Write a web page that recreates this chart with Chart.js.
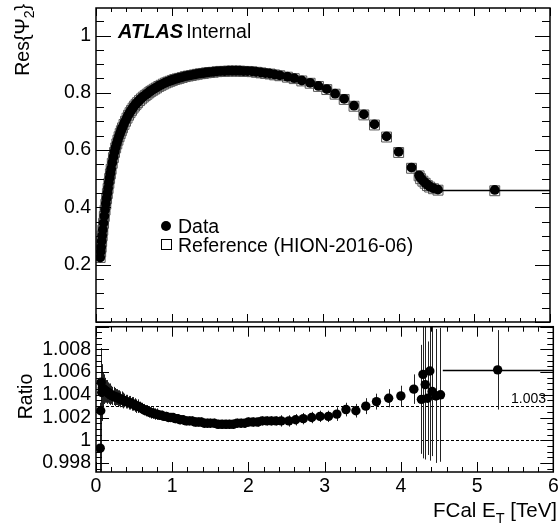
<!DOCTYPE html>
<html>
<head>
<meta charset="utf-8">
<script src="https://cdn.jsdelivr.net/npm/chart.js@4.4.1/dist/chart.umd.min.js"></script>
<style>
  body { margin: 0; background: #fff; }
  #wrap { position: relative; width: 558px; height: 526px; overflow: hidden; }
  #top { position: absolute; left: 0; top: 0; }
  #bot { position: absolute; left: 0; top: 322px; }
</style>
</head>
<body>
<div id="wrap">
  <canvas id="top" width="558" height="330"></canvas>
  <canvas id="bot" width="558" height="204"></canvas>
</div>
<script>
// FCal E_T bin centres [TeV]
const fcalEt = [
  0.055, 0.062, 0.068, 0.075, 0.082, 0.09, 0.10, 0.11, 0.12, 0.13,
  0.14, 0.15, 0.16, 0.17, 0.18, 0.19, 0.20, 0.215, 0.23, 0.245,
  0.26, 0.275, 0.29, 0.305, 0.32, 0.335, 0.35, 0.37, 0.39, 0.41,
  0.43, 0.45, 0.47, 0.49, 0.51, 0.53, 0.55, 0.575, 0.60, 0.625,
  0.65, 0.675, 0.70, 0.725, 0.75, 0.775, 0.80, 0.83, 0.86, 0.89,
  0.92, 0.95, 0.98, 1.01, 1.04, 1.07, 1.10, 1.14, 1.18, 1.22,
  1.26, 1.30, 1.34, 1.38, 1.42, 1.46, 1.50, 1.55, 1.60, 1.65,
  1.70, 1.75, 1.80, 1.85, 1.90, 1.95, 2.00, 2.06, 2.12, 2.18,
  2.24, 2.30, 2.36, 2.43, 2.53, 2.62, 2.72, 2.83, 2.94, 3.05,
  3.16, 3.28, 3.41, 3.54, 3.68, 3.84, 4.00, 4.17, 4.27, 4.29,
  4.32, 4.35, 4.38, 4.41, 4.46, 4.52, 5.27
];

// Res{Psi_2}, data
const resData = [
  0.225, 0.245, 0.262, 0.282, 0.302, 0.322, 0.346, 0.370, 0.392, 0.413,
  0.432, 0.450, 0.468, 0.486, 0.503, 0.519, 0.535, 0.556, 0.576, 0.594,
  0.610, 0.624, 0.637, 0.649, 0.660, 0.670, 0.680, 0.692, 0.703, 0.714,
  0.724, 0.733, 0.741, 0.749, 0.756, 0.762, 0.768, 0.775, 0.781, 0.787,
  0.792, 0.797, 0.802, 0.807, 0.811, 0.815, 0.819, 0.824, 0.828, 0.832,
  0.836, 0.839, 0.842, 0.845, 0.848, 0.850, 0.852, 0.855, 0.858, 0.860,
  0.862, 0.864, 0.866, 0.868, 0.869, 0.871, 0.872, 0.873, 0.875, 0.876,
  0.876, 0.877, 0.877, 0.877, 0.877, 0.876, 0.876, 0.875, 0.873, 0.871,
  0.869, 0.867, 0.864, 0.861, 0.856, 0.851, 0.843, 0.835, 0.824, 0.813,
  0.797, 0.779, 0.755, 0.725, 0.690, 0.648, 0.594, 0.539, 0.512, 0.503,
  0.494, 0.486, 0.479, 0.473, 0.467, 0.462, 0.461
];

// data / reference
const ratio = [
  0.9993, 1.0026, 1.0051, 1.0042, 1.0046, 1.0045, 1.0045, 1.0044, 1.0044, 1.0043,
  1.0043, 1.0042, 1.0042, 1.0041, 1.0041, 1.0040, 1.0040, 1.0039, 1.0039, 1.0038,
  1.0038, 1.0038, 1.0037, 1.0037, 1.0036, 1.0036, 1.0035, 1.0035, 1.0034, 1.0034,
  1.0033, 1.0033, 1.0032, 1.0032, 1.0031, 1.0030, 1.0030, 1.0029, 1.0028, 1.0027,
  1.0026, 1.0026, 1.0025, 1.0024, 1.0024, 1.0023, 1.0023, 1.0022, 1.0022, 1.0021,
  1.0021, 1.0020, 1.0020, 1.0020, 1.0019, 1.0019, 1.0018, 1.0018, 1.0017, 1.0017,
  1.0017, 1.0016, 1.0016, 1.0016, 1.0015, 1.0015, 1.0015, 1.0015, 1.0014, 1.0014,
  1.0014, 1.0014, 1.0014, 1.0015, 1.0015, 1.0015, 1.0016, 1.0016, 1.0016, 1.0017,
  1.0017, 1.0017, 1.0017, 1.0017, 1.0017, 1.0018, 1.0019, 1.0020, 1.0021, 1.0021,
  1.0023, 1.0027, 1.0026, 1.0030, 1.0034, 1.0037, 1.0039, 1.0045, 1.0036, 1.0058,
  1.0049, 1.0037, 1.0061, 1.0043, 1.0039, 1.0040, 1.0062
];

const ratioErr = [
  0.0040, 0.0055, 0.0030, 0.0025, 0.0020, 0.0015, 0.0013, 0.0012, 0.0011, 0.0010,
  0.0010, 0.0010, 0.0009, 0.0009, 0.0009, 0.0009, 0.0008, 0.0008, 0.0008, 0.0008,
  0.0007, 0.0007, 0.0007, 0.0007, 0.0007, 0.0007, 0.0007, 0.0006, 0.0006, 0.0006,
  0.0006, 0.0006, 0.0006, 0.0006, 0.0006, 0.0006, 0.0006, 0.0005, 0.0005, 0.0005,
  0.0005, 0.0005, 0.0005, 0.0005, 0.0005, 0.0005, 0.0005, 0.0004, 0.0004, 0.0004,
  0.0004, 0.0004, 0.0004, 0.0004, 0.0004, 0.0004, 0.0004, 0.0004, 0.0004, 0.0004,
  0.0004, 0.0004, 0.0004, 0.0004, 0.0004, 0.0004, 0.0004, 0.0004, 0.0004, 0.0004,
  0.0004, 0.0004, 0.0004, 0.0004, 0.0004, 0.0004, 0.0004, 0.0004, 0.0004, 0.0004,
  0.0004, 0.0004, 0.0004, 0.0005, 0.0005, 0.0005, 0.0005, 0.0005, 0.0005, 0.0005,
  0.0006, 0.0006, 0.0006, 0.0007, 0.0007, 0.0008, 0.0009, 0.0013, 0.0048, 0.0074,
  0.0066, 0.0050, 0.0079, 0.0057, 0.0059, 0.0059, 0.0035
];

// reference = data / ratio
const resRef = resData.map((v, i) => v / ratio[i]);

const lastBin = [4.55, 6.0];
const xTicks = [0, 1, 2, 3, 4, 5, 6];
const resTicks = [0.2, 0.4, 0.6, 0.8, 1];
const ratioTicks = [0.998, 1, 1.002, 1.004, 1.006, 1.008];
const ratioLines = [1, 1.003];

const FONT = '"Liberation Sans", Arial, Helvetica, sans-serif';
const xy = (xs, ys) => xs.map((x, i) => ({ x: x, y: ys[i] }));
const noPad = s => { s.paddingLeft = 0; s.paddingRight = 0; s.paddingTop = 0; s.paddingBottom = 0; };

// ROOT style frame with ticks on all four sides
function drawFrame(ctx, chart, t) {
  const a = chart.chartArea, sx = chart.scales.x, sy = chart.scales.y;
  ctx.save();
  ctx.strokeStyle = '#000';
  ctx.lineWidth = 1;
  ctx.beginPath();
  let k0 = Math.ceil(sx.min / t.xStep - 1e-6), k1 = Math.floor(sx.max / t.xStep + 1e-6);
  for (let k = k0; k <= k1; k++) {
    const px = Math.round(sx.getPixelForValue(k * t.xStep)) + 0.5;
    const len = k % t.xEvery === 0 ? t.xMajor : t.xMinor;
    ctx.moveTo(px, a.bottom); ctx.lineTo(px, a.bottom - len);
    ctx.moveTo(px, a.top); ctx.lineTo(px, a.top + len);
  }
  k0 = Math.ceil(sy.min / t.yStep - 1e-6); k1 = Math.floor(sy.max / t.yStep + 1e-6);
  for (let k = k0; k <= k1; k++) {
    const py = Math.round(sy.getPixelForValue(k * t.yStep)) + 0.5;
    const len = k % t.yEvery === 0 ? t.yMajor : t.yMinor;
    ctx.moveTo(a.left, py); ctx.lineTo(a.left + len, py);
    ctx.moveTo(a.right, py); ctx.lineTo(a.right - len, py);
  }
  ctx.stroke();
  ctx.lineWidth = 1.5;
  ctx.strokeRect(a.left, a.top, a.right - a.left, a.bottom - a.top);
  ctx.restore();
}

function lastBinBar(ctx, chart, yVal) {
  const sx = chart.scales.x, sy = chart.scales.y, a = chart.chartArea;
  const py = Math.round(sy.getPixelForValue(yVal)) + 0.5;
  ctx.save();
  ctx.strokeStyle = '#000';
  ctx.lineWidth = 1.5;
  ctx.beginPath();
  ctx.moveTo(sx.getPixelForValue(lastBin[0]), py);
  ctx.lineTo(Math.min(sx.getPixelForValue(lastBin[1]), a.right), py);
  ctx.stroke();
  ctx.restore();
}

// rotated title made of parts, some of them subscripts
function vTitle(ctx, parts, x, y, anchor) {
  ctx.save();
  ctx.fillStyle = '#000';
  ctx.translate(x, y);
  ctx.rotate(-Math.PI / 2);
  let w = 0;
  parts.forEach(p => { ctx.font = p.size + 'px ' + FONT; w += ctx.measureText(p.t).width; });
  let cx = anchor === 'end' ? -w : -w / 2;
  parts.forEach(p => {
    ctx.font = p.size + 'px ' + FONT;
    ctx.fillText(p.t, cx, p.dy || 0);
    cx += ctx.measureText(p.t).width;
  });
  ctx.restore();
}

const topPlugin = {
  id: 'topPanel',
  afterDatasetsDraw(chart) {
    lastBinBar(chart.ctx, chart, resData[resData.length - 1]);
  },
  afterDraw(chart) {
    const ctx = chart.ctx;
    drawFrame(ctx, chart, { xStep: 0.2, xEvery: 5, xMajor: 8, xMinor: 4, yStep: 0.05, yEvery: 4, yMajor: 15, yMinor: 8 });

    // ATLAS label
    ctx.save();
    ctx.fillStyle = '#000';
    ctx.textBaseline = 'alphabetic';
    ctx.font = 'italic bold 20px ' + FONT;
    ctx.fillText('ATLAS', 118, 38);
    const wA = ctx.measureText('ATLAS').width;
    ctx.font = '19.5px ' + FONT;
    ctx.fillText('Internal', 118 + wA + 3, 38);

    // legend
    const ds = chart.data.datasets;
    ctx.beginPath();
    ctx.arc(166, 226, 5, 0, Math.PI * 2);
    ctx.fill();
    ctx.fillText(ds[0].label, 178, 233);
    ctx.lineWidth = 1;
    ctx.strokeStyle = '#000';
    ctx.strokeRect(161.5, 239.5, 10, 10);
    ctx.fillText(ds[1].label, 178, 252);
    ctx.restore();

    vTitle(ctx, [{ t: 'Res{\u03A8', size: 19.5 }, { t: '2', size: 14, dy: 5 }, { t: '}', size: 19.5 }], 29, 4, 'end');
  }
};

const botPlugin = {
  id: 'ratioPanel',
  beforeDatasetsDraw(chart) {
    const ctx = chart.ctx, a = chart.chartArea, sx = chart.scales.x, sy = chart.scales.y;
    ctx.save();
    ctx.beginPath();
    ctx.rect(a.left, a.top, a.right - a.left, a.bottom - a.top);
    ctx.clip();
    // dashed reference lines
    ctx.strokeStyle = '#000';
    ctx.lineWidth = 1;
    ctx.setLineDash([3, 2]);
    ratioLines.forEach(v => {
      const py = Math.round(sy.getPixelForValue(v)) + 0.5;
      ctx.beginPath();
      ctx.moveTo(a.left, py);
      ctx.lineTo(a.right, py);
      ctx.stroke();
    });
    ctx.setLineDash([]);
    // vertical error bars
    ctx.strokeStyle = '#222';
    ctx.beginPath();
    fcalEt.forEach((x, i) => {
      const px = Math.round(sx.getPixelForValue(x)) + 0.5;
      ctx.moveTo(px, sy.getPixelForValue(ratio[i] - ratioErr[i]));
      ctx.lineTo(px, sy.getPixelForValue(ratio[i] + ratioErr[i]));
    });
    ctx.stroke();
    ctx.restore();
    lastBinBar(ctx, chart, ratio[ratio.length - 1]);
  },
  afterDraw(chart) {
    const ctx = chart.ctx, sy = chart.scales.y;
    drawFrame(ctx, chart, { xStep: 0.2, xEvery: 5, xMajor: 10, xMinor: 5, yStep: 0.0005, yEvery: 4, yMajor: 13, yMinor: 6 });
    ctx.save();
    ctx.fillStyle = '#000';
    ctx.font = '14px ' + FONT;
    ctx.fillText('1.003', 511, sy.getPixelForValue(ratioLines[1]) - 3);
    // x title
    const parts = [{ t: 'FCal E', size: 20.5 }, { t: 'T', size: 14.5, dy: 6 }, { t: ' [TeV]', size: 20.5 }];
    let w = 0;
    parts.forEach(p => { ctx.font = p.size + 'px ' + FONT; w += ctx.measureText(p.t).width; });
    let cx = 557 - w;
    parts.forEach(p => {
      ctx.font = p.size + 'px ' + FONT;
      ctx.fillText(p.t, cx, 195 + (p.dy || 0));
      cx += ctx.measureText(p.t).width;
    });
    ctx.restore();
    vTitle(ctx, [{ t: 'Ratio', size: 19.5 }], 32, 74.5, 'middle');
  }
};

const tickFont = { family: FONT, size: 19.5 };

new Chart(document.getElementById('top'), {
  type: 'scatter',
  data: {
    datasets: [
      {
        label: 'Data',
        data: xy(fcalEt, resData),
        pointStyle: 'circle',
        pointRadius: 4.9,
        backgroundColor: '#000',
        borderColor: '#000',
        borderWidth: 0
      },
      {
        label: 'Reference (HION-2016-06)',
        data: xy(fcalEt, resRef),
        pointStyle: 'rect',
        pointRadius: 7,
        backgroundColor: 'rgba(255,255,255,0)',
        borderColor: '#555',
        borderWidth: 1
      }
    ]
  },
  options: {
    responsive: false,
    animation: false,
    events: [],
    layout: { padding: { left: 0, right: 1, top: 7, bottom: 4 } },
    plugins: { legend: { display: false }, tooltip: { enabled: false } },
    scales: {
      x: { type: 'linear', min: 0, max: 6, display: false },
      y: {
        type: 'linear', min: 0, max: 1.096,
        grid: { display: false, drawTicks: false },
        border: { display: false },
        ticks: { font: tickFont, color: '#000', padding: 5, callback: v => String(v) },
        afterBuildTicks: s => { s.ticks = resTicks.map(v => ({ value: v })); },
        afterFit: s => { s.width = 96; noPad(s); }
      }
    }
  },
  plugins: [topPlugin]
});

new Chart(document.getElementById('bot'), {
  type: 'scatter',
  data: {
    datasets: [
      {
        label: 'Data',
        data: xy(fcalEt, ratio),
        pointStyle: 'circle',
        pointRadius: 4.7,
        backgroundColor: '#000',
        borderColor: '#000',
        borderWidth: 0
      }
    ]
  },
  options: {
    responsive: false,
    animation: false,
    events: [],
    layout: { padding: { left: 0, right: 1, top: 4, bottom: 0 } },
    plugins: { legend: { display: false }, tooltip: { enabled: false } },
    scales: {
      x: {
        type: 'linear', min: 0, max: 6,
        grid: { display: false, drawTicks: false },
        border: { display: false },
        ticks: { font: tickFont, color: '#000', padding: 3, maxRotation: 0 },
        afterBuildTicks: s => { s.ticks = xTicks.map(v => ({ value: v })); },
        afterFit: s => { s.height = 54; noPad(s); }
      },
      y: {
        type: 'linear', min: 0.9972, max: 1.010,
        grid: { display: false, drawTicks: false },
        border: { display: false },
        ticks: { font: tickFont, color: '#000', padding: 5, callback: v => String(Math.round(v * 1000) / 1000) },
        afterBuildTicks: s => { s.ticks = ratioTicks.map(v => ({ value: v })); },
        afterFit: s => { s.width = 96; noPad(s); }
      }
    }
  },
  plugins: [botPlugin]
});
</script>
</body>
</html>
